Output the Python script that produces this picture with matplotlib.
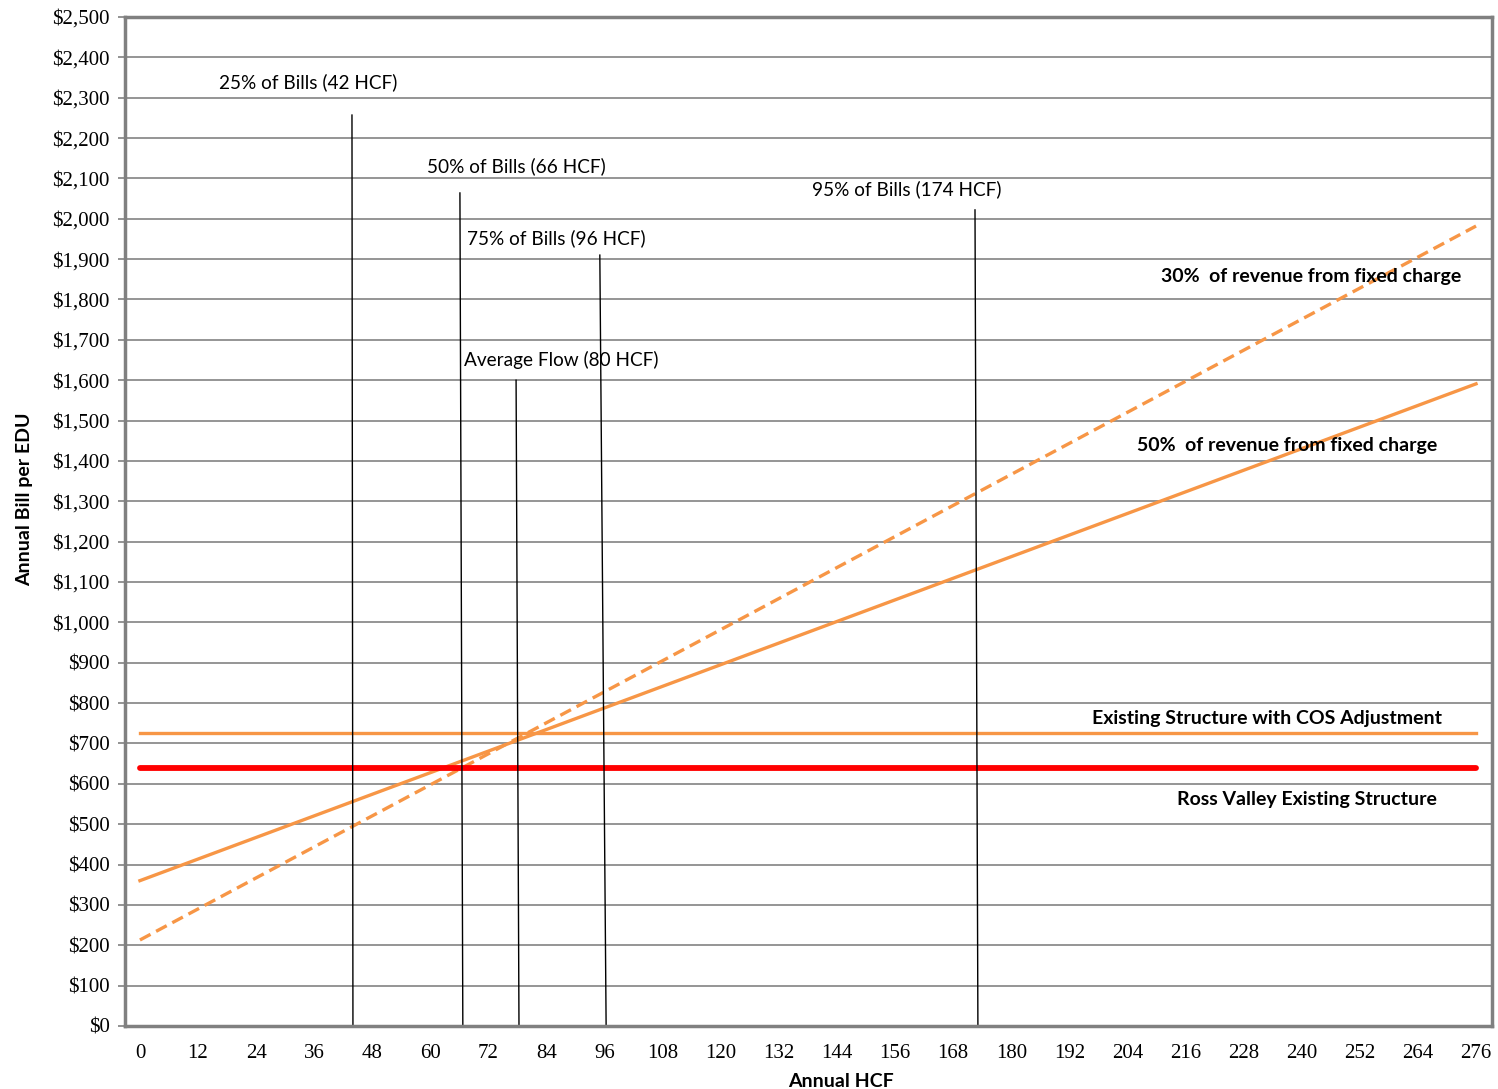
import numpy as np
import matplotlib
matplotlib.use("Agg")
import matplotlib.pyplot as plt
from matplotlib.ticker import FuncFormatter, MultipleLocator

# annual HCF categories and bills
hcf = [0, 276]
bill_50_fixed = [360, 1591]
bill_30_fixed = [213, 1982]
bill_cos = [726, 726]
bill_ross = [639, 639]

# marker lines: (label, x at top, x at bottom, top value)
marker_labels = ["25% of Bills (42 HCF)", "50% of Bills (66 HCF)", "75% of Bills (96 HCF)",
                 "Average Flow (80 HCF)", "95% of Bills (174 HCF)"]
marker_x_top = [43.8, 66.1, 95.0, 77.7, 172.5]
marker_x_bot = [44.0, 66.7, 96.3, 78.3, 173.1]
marker_top = [2257, 2064, 1910, 1600, 2022]
marker_label_x = [34.7, 77.8, 86.1, 87.0, 158.3]
marker_label_y = [2339, 2131, 1952, 1650, 2074]

orange = "#F79646"

fig = plt.figure(figsize=(14.98, 10.89), dpi=100)
ax = fig.add_axes([0.0834, 0.0579, 0.9126, 0.9265])

ax.set_xlim(-3.1, 279.3)
ax.set_ylim(0, 2500)

ax.yaxis.set_major_locator(MultipleLocator(100))
ax.xaxis.set_major_locator(MultipleLocator(12))
ax.yaxis.set_major_formatter(FuncFormatter(lambda v, p: "${:,.0f}".format(v)))
ax.grid(axis="y", color="#8c8c8c", lw=1.3)
ax.set_axisbelow(True)

for s in ax.spines.values():
    s.set_color("#808080")
    s.set_linewidth(2.5)

ax.tick_params(axis="y", length=5, width=1.2, color="#808080", labelsize=15, pad=6)
ax.tick_params(axis="x", length=0, labelsize=15, pad=13)
for lab in ax.get_xticklabels() + ax.get_yticklabels():
    lab.set_family("Liberation Serif")

ax.plot(hcf, bill_30_fixed, color=orange, lw=2.4, ls=(0, (3.6, 1.9)))
ax.plot(hcf, bill_50_fixed, color=orange, lw=2.4)
ax.plot(hcf, bill_cos, color=orange, lw=2.4)
ax.plot(hcf, bill_ross, color="#FF0000", lw=4.2, solid_capstyle="round")

for lbl, xt, xb, top, lx, ly in zip(marker_labels, marker_x_top, marker_x_bot, marker_top,
                                     marker_label_x, marker_label_y):
    ax.plot([xb, xt], [0, top], color="black", lw=1.0)
    ax.text(lx, ly, lbl, ha="center", va="center", fontsize=13.7, family="Lato")

bold = dict(ha="center", va="center", fontsize=14, family="Lato", fontweight="bold")
ax.text(241.9, 1856, "30%  of revenue from fixed charge", **bold)
ax.text(236.9, 1437, "50%  of revenue from fixed charge", **bold)
ax.text(232.8, 763, "Existing Structure with COS Adjustment", **bold)
ax.text(241.1, 562, "Ross Valley Existing Structure", **bold)

ax.set_xlabel("Annual HCF", fontsize=14, family="Lato", fontweight="bold", labelpad=2)
ax.set_ylabel("Annual Bill per EDU", fontsize=14, family="Lato", fontweight="bold", labelpad=6)
ax.xaxis.set_label_coords(0.524, -0.047)
ax.yaxis.set_label_coords(-0.067, 0.522)

fig.savefig("out.png", dpi=100)
